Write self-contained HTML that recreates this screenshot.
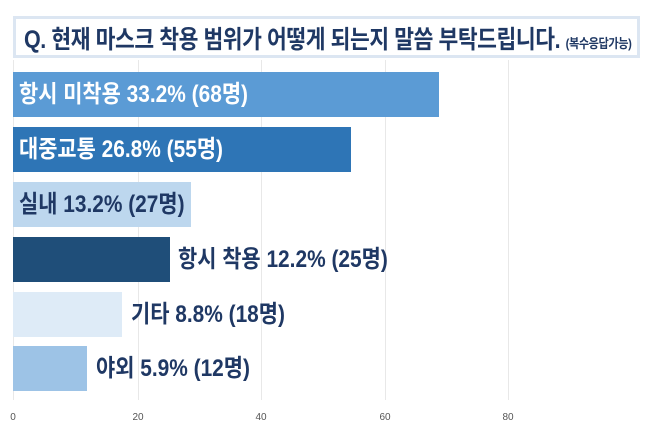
<!DOCTYPE html>
<html><head><meta charset="utf-8"><style>
body{margin:0;width:650px;height:436px;background:#fff;position:relative;overflow:hidden;font-family:"Liberation Sans","Noto Sans CJK KR",sans-serif}
.title{position:absolute;left:13px;top:16px;width:621px;height:36px;border:3px solid #dce6f2;background:#fff}
.title span{position:absolute;left:8px;top:1px;font-size:25px;font-weight:bold;color:#1f3864;white-space:nowrap;transform:scaleX(0.86);transform-origin:left center;letter-spacing:-0.5px}
.title small{font-size:13px}
.g{position:absolute;top:60px;height:340px;width:1px;background:#e8e8e8}
.b{position:absolute;left:13px;height:45px}
.l{position:absolute;font-size:24px;font-weight:bold;white-space:nowrap;transform:scaleX(0.87);transform-origin:left center;line-height:45px}
.t{position:absolute;top:412px;font-size:10px;color:#555;width:20px;text-align:center}
</style></head><body>
<div class="title"><span>Q. 현재 마스크 착용 범위가 어떻게 되는지 말씀 부탁드립니다. <small>(복수응답가능)</small></span></div>
<div class="g" style="left:13px"></div><div class="g" style="left:138px"></div><div class="g" style="left:261px"></div><div class="g" style="left:385px"></div><div class="g" style="left:508px"></div>
<div class="b" style="top:72px;width:426px;background:#5b9bd5"></div>
<div class="b" style="top:127px;width:338px;background:#2e75b6"></div>
<div class="b" style="top:182px;width:178px;background:#bdd7ee"></div>
<div class="b" style="top:237px;width:157px;background:#1f4e79"></div>
<div class="b" style="top:292px;width:109px;background:#deebf7"></div>
<div class="b" style="top:346px;width:74px;background:#9dc3e6"></div>
<div class="l" style="left:19px;top:72px;color:#fff">항시 미착용 33.2% (68명)</div>
<div class="l" style="left:19px;top:127px;color:#fff">대중교통 26.8% (55명)</div>
<div class="l" style="left:19px;top:182px;color:#1f3864">실내 13.2% (27명)</div>
<div class="l" style="left:178px;top:237px;color:#1f3864">항시 착용 12.2% (25명)</div>
<div class="l" style="left:131px;top:292px;color:#1f3864">기타 8.8% (18명)</div>
<div class="l" style="left:96px;top:346px;color:#1f3864">야외 5.9% (12명)</div>
<div class="t" style="left:3px">0</div><div class="t" style="left:128px">20</div><div class="t" style="left:251px">40</div><div class="t" style="left:375px">60</div><div class="t" style="left:498px">80</div>
</body></html>
